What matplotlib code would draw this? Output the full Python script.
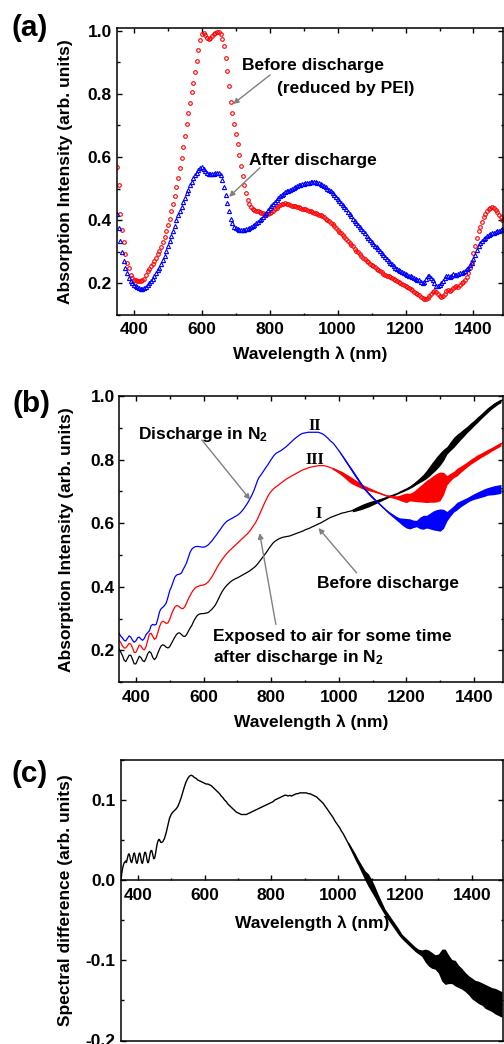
import numpy as np
import matplotlib
matplotlib.use("Agg")
import matplotlib.pyplot as plt
from matplotlib.ticker import MultipleLocator, FormatStrFormatter, FixedLocator

plt.rcParams['font.family'] = ['Liberation Sans', 'DejaVu Sans']
plt.rcParams['font.weight'] = 'bold'
plt.rcParams['axes.labelweight'] = 'bold'
plt.rcParams['axes.unicode_minus'] = False
plt.rcParams['mathtext.fontset'] = 'custom'
plt.rcParams['mathtext.rm'] = 'Liberation Sans:bold'
plt.rcParams['mathtext.bf'] = 'Liberation Sans:bold'
plt.rcParams['mathtext.default'] = 'bf'
plt.rcParams['xtick.direction'] = 'in'
plt.rcParams['ytick.direction'] = 'in'

# ---------------- data ----------------
# wavelength grid (nm) for panels (a) and (b)
wl = np.arange(350, 1486, 5)

# (a) before discharge (reduced by PEI) - red circles
a_before = [
    0.570, 0.510, 0.420, 0.370, 0.330, 0.292, 0.265, 0.248, 0.228, 0.218,
    0.212, 0.210, 0.208, 0.207, 0.208, 0.210, 0.215, 0.228, 0.238, 0.245,
    0.255, 0.262, 0.270, 0.280, 0.292, 0.303, 0.315, 0.330, 0.347, 0.365,
    0.385, 0.405, 0.428, 0.452, 0.478, 0.505, 0.535, 0.565, 0.598, 0.632,
    0.667, 0.705, 0.740, 0.772, 0.805, 0.835, 0.870, 0.905, 0.940, 0.970,
    0.990, 0.992, 0.985, 0.978, 0.975, 0.977, 0.982, 0.988, 0.993, 0.995,
    0.995, 0.990, 0.975, 0.950, 0.915, 0.873, 0.825, 0.775, 0.740, 0.705,
    0.672, 0.640, 0.605, 0.572, 0.540, 0.512, 0.485, 0.465, 0.450, 0.442,
    0.437, 0.433, 0.430, 0.428, 0.425, 0.423, 0.422, 0.421, 0.420, 0.420,
    0.423, 0.426, 0.430, 0.435, 0.440, 0.444, 0.447, 0.450, 0.452, 0.453,
    0.452, 0.450, 0.448, 0.446, 0.445, 0.444, 0.442, 0.441, 0.439, 0.437,
    0.436, 0.434, 0.432, 0.430, 0.428, 0.426, 0.424, 0.422, 0.420, 0.418,
    0.415, 0.412, 0.409, 0.405, 0.401, 0.397, 0.392, 0.387, 0.381, 0.375,
    0.369, 0.364, 0.359, 0.353, 0.347, 0.341, 0.335, 0.329, 0.323, 0.317,
    0.310, 0.304, 0.298, 0.292, 0.287, 0.282, 0.277, 0.272, 0.267, 0.263,
    0.259, 0.255, 0.251, 0.247, 0.243, 0.239, 0.235, 0.231, 0.228, 0.225,
    0.222, 0.219, 0.216, 0.213, 0.210, 0.207, 0.204, 0.201, 0.198, 0.195,
    0.192, 0.189, 0.186, 0.182, 0.178, 0.174, 0.170, 0.166, 0.162, 0.158,
    0.154, 0.150, 0.150, 0.154, 0.160, 0.167, 0.172, 0.175, 0.172, 0.165,
    0.160, 0.158, 0.160, 0.168, 0.175, 0.178, 0.176, 0.178, 0.185, 0.190,
    0.192, 0.190, 0.195, 0.200, 0.205, 0.210, 0.220, 0.232, 0.248, 0.268,
    0.295, 0.318, 0.345, 0.365, 0.380, 0.395, 0.410, 0.420, 0.428, 0.435,
    0.440, 0.441, 0.438, 0.432, 0.425, 0.418, 0.410, 0.402,
]

# (a) after discharge - blue triangles
a_after = [
    0.420, 0.375, 0.335, 0.300, 0.272, 0.250, 0.232, 0.218, 0.207, 0.200,
    0.195, 0.191, 0.188, 0.185, 0.183, 0.183, 0.185, 0.189, 0.194, 0.200,
    0.207, 0.214, 0.222, 0.232, 0.241, 0.250, 0.261, 0.274, 0.288, 0.303,
    0.318, 0.334, 0.350, 0.366, 0.382, 0.400, 0.416, 0.430, 0.443, 0.457,
    0.471, 0.485, 0.497, 0.510, 0.522, 0.533, 0.543, 0.551, 0.558, 0.564,
    0.567, 0.563, 0.555, 0.549, 0.546, 0.545, 0.545, 0.546, 0.548, 0.550,
    0.549, 0.542, 0.528, 0.505, 0.480, 0.455, 0.428, 0.405, 0.390, 0.380,
    0.375, 0.372, 0.370, 0.369, 0.369, 0.370, 0.371, 0.373, 0.376, 0.379,
    0.382, 0.386, 0.390, 0.395, 0.400, 0.405, 0.411, 0.417, 0.424, 0.431,
    0.438, 0.445, 0.452, 0.459, 0.465, 0.470, 0.476, 0.480, 0.484, 0.488,
    0.491, 0.494, 0.497, 0.500, 0.503, 0.506, 0.508, 0.510, 0.512, 0.514,
    0.516, 0.517, 0.518, 0.519, 0.520, 0.520, 0.520, 0.520, 0.519, 0.517,
    0.515, 0.512, 0.508, 0.504, 0.500, 0.496, 0.491, 0.486, 0.480, 0.474,
    0.468, 0.462, 0.455, 0.448, 0.441, 0.434, 0.427, 0.420, 0.412, 0.405,
    0.398, 0.391, 0.385, 0.379, 0.372, 0.365, 0.358, 0.351, 0.344, 0.338,
    0.332, 0.326, 0.320, 0.314, 0.308, 0.302, 0.296, 0.289, 0.283, 0.277,
    0.271, 0.265, 0.260, 0.255, 0.250, 0.246, 0.242, 0.238, 0.235, 0.232,
    0.229, 0.227, 0.225, 0.222, 0.220, 0.218, 0.215, 0.212, 0.210, 0.205,
    0.200, 0.205, 0.215, 0.222, 0.223, 0.218, 0.210, 0.200, 0.193, 0.192,
    0.195, 0.200, 0.208, 0.218, 0.225, 0.222, 0.220, 0.225, 0.230, 0.228,
    0.226, 0.230, 0.234, 0.233, 0.235, 0.240, 0.245, 0.250, 0.258, 0.266,
    0.276, 0.290, 0.305, 0.318, 0.328, 0.335, 0.340, 0.345, 0.349, 0.352,
    0.355, 0.358, 0.360, 0.362, 0.365, 0.367, 0.369, 0.371,
]

# (b) II: discharge in N2 (blue)
b_n2 = [
    0.255, 0.245, 0.240, 0.232, 0.230, 0.238, 0.246, 0.242, 0.232, 0.226,
    0.230, 0.240, 0.242, 0.236, 0.232, 0.238, 0.250, 0.256, 0.262, 0.278,
    0.282, 0.280, 0.282, 0.300, 0.322, 0.332, 0.336, 0.342, 0.350, 0.368,
    0.388, 0.400, 0.415, 0.430, 0.437, 0.439, 0.440, 0.444, 0.455, 0.465,
    0.476, 0.492, 0.508, 0.518, 0.523, 0.526, 0.527, 0.527, 0.526, 0.525,
    0.525, 0.526, 0.529, 0.533, 0.539, 0.545, 0.552, 0.559, 0.566, 0.574,
    0.581, 0.589, 0.596, 0.602, 0.607, 0.610, 0.613, 0.616, 0.619, 0.622,
    0.625, 0.629, 0.634, 0.640, 0.647, 0.655, 0.663, 0.672, 0.682, 0.693,
    0.705, 0.720, 0.735, 0.745, 0.752, 0.760, 0.768, 0.776, 0.783, 0.792,
    0.800, 0.808, 0.815, 0.820, 0.823, 0.826, 0.829, 0.833, 0.837, 0.841,
    0.846, 0.851, 0.856, 0.861, 0.866, 0.870, 0.874, 0.878, 0.881, 0.883,
    0.884, 0.885, 0.886, 0.886, 0.886, 0.886, 0.886, 0.886, 0.886, 0.884,
    0.882, 0.879, 0.875, 0.870, 0.865, 0.859, 0.855, 0.850, 0.843, 0.836,
    0.829, 0.821, 0.813, 0.805, 0.797, 0.789, 0.781, 0.773, 0.765, 0.757,
    0.749, 0.741, 0.733, 0.725, 0.717, 0.710, 0.704, 0.698, 0.692, 0.686,
    0.681, 0.676, 0.671, 0.666, 0.661, 0.656, 0.651, 0.646, 0.641, 0.636,
    0.632, 0.628, 0.624, 0.620, 0.616, 0.612, 0.609, 0.606, 0.604, 0.602,
    0.600, 0.599, 0.598, 0.598, 0.598, 0.598, 0.599, 0.600, 0.601, 0.602,
    0.603, 0.604, 0.605, 0.606, 0.607, 0.608, 0.609, 0.610, 0.610, 0.610,
    0.610, 0.612, 0.614, 0.617, 0.622, 0.628, 0.634, 0.640, 0.645, 0.650,
    0.654, 0.658, 0.661, 0.664, 0.667, 0.670, 0.673, 0.676, 0.679, 0.682,
    0.684, 0.686, 0.688, 0.690, 0.692, 0.694, 0.696, 0.698, 0.700, 0.701,
    0.702, 0.703, 0.704, 0.705, 0.706, 0.707, 0.708, 0.709,
]

# (b) III: exposed to air after discharge in N2 (red)
b_air = [
    0.232, 0.225, 0.215, 0.208, 0.208, 0.215, 0.222, 0.220, 0.208, 0.194,
    0.194, 0.205, 0.217, 0.214, 0.205, 0.202, 0.212, 0.232, 0.252, 0.254,
    0.244, 0.235, 0.240, 0.258, 0.275, 0.288, 0.292, 0.289, 0.285, 0.287,
    0.298, 0.313, 0.326, 0.336, 0.341, 0.340, 0.336, 0.332, 0.332, 0.338,
    0.350, 0.362, 0.372, 0.382, 0.390, 0.396, 0.400, 0.402, 0.404, 0.405,
    0.406, 0.408, 0.412, 0.417, 0.424, 0.432, 0.441, 0.451, 0.461, 0.470,
    0.478, 0.486, 0.493, 0.500, 0.506, 0.512, 0.517, 0.522, 0.527, 0.532,
    0.537, 0.542, 0.547, 0.552, 0.557, 0.562, 0.567, 0.573, 0.580, 0.588,
    0.596, 0.604, 0.614, 0.626, 0.638, 0.650, 0.662, 0.673, 0.684, 0.693,
    0.700, 0.706, 0.711, 0.715, 0.719, 0.723, 0.727, 0.731, 0.735, 0.739,
    0.742, 0.745, 0.748, 0.751, 0.754, 0.757, 0.760, 0.763, 0.766, 0.768,
    0.770, 0.772, 0.774, 0.776, 0.777, 0.778, 0.779, 0.780, 0.781, 0.781,
    0.781, 0.781, 0.780, 0.779, 0.777, 0.775, 0.773, 0.771, 0.768, 0.765,
    0.762, 0.759, 0.756, 0.752, 0.748, 0.744, 0.740, 0.736, 0.733, 0.730,
    0.727, 0.724, 0.721, 0.718, 0.715, 0.713, 0.711, 0.709, 0.707, 0.705,
    0.703, 0.701, 0.699, 0.697, 0.695, 0.693, 0.691, 0.689, 0.687, 0.686,
    0.685, 0.684, 0.683, 0.682, 0.681, 0.680, 0.680, 0.680, 0.680, 0.680,
    0.680, 0.681, 0.682, 0.683, 0.684, 0.686, 0.688, 0.690, 0.692, 0.694,
    0.696, 0.698, 0.700, 0.702, 0.704, 0.706, 0.708, 0.710, 0.712, 0.714,
    0.716, 0.720, 0.725, 0.730, 0.735, 0.740, 0.745, 0.749, 0.753, 0.757,
    0.761, 0.765, 0.769, 0.773, 0.777, 0.781, 0.785, 0.789, 0.793, 0.797,
    0.800, 0.803, 0.807, 0.810, 0.813, 0.816, 0.819, 0.822, 0.825, 0.828,
    0.831, 0.834, 0.837, 0.840, 0.843, 0.846, 0.849, 0.852,
]

# (b) I: before discharge (black)
b_before = [
    0.205, 0.195, 0.185, 0.170, 0.165, 0.175, 0.185, 0.185, 0.172, 0.158,
    0.158, 0.170, 0.182, 0.178, 0.168, 0.165, 0.175, 0.190, 0.197, 0.192,
    0.178, 0.171, 0.178, 0.192, 0.205, 0.215, 0.218, 0.215, 0.210, 0.208,
    0.212, 0.222, 0.232, 0.242, 0.250, 0.255, 0.255, 0.250, 0.245, 0.244,
    0.250, 0.260, 0.270, 0.278, 0.290, 0.300, 0.308, 0.313, 0.315, 0.316,
    0.316, 0.317, 0.318, 0.320, 0.325, 0.330, 0.336, 0.343, 0.353, 0.364,
    0.375, 0.385, 0.393, 0.400, 0.406, 0.411, 0.416, 0.420, 0.423, 0.426,
    0.428, 0.431, 0.434, 0.437, 0.440, 0.443, 0.446, 0.449, 0.453, 0.457,
    0.461, 0.466, 0.472, 0.479, 0.486, 0.493, 0.500, 0.507, 0.515, 0.523,
    0.530, 0.537, 0.542, 0.546, 0.549, 0.552, 0.554, 0.556, 0.557, 0.558,
    0.559, 0.560, 0.562, 0.564, 0.566, 0.568, 0.570, 0.572, 0.574, 0.576,
    0.579, 0.581, 0.583, 0.585, 0.588, 0.590, 0.593, 0.595, 0.598, 0.600,
    0.603, 0.606, 0.609, 0.612, 0.615, 0.618, 0.620, 0.622, 0.624, 0.626,
    0.628, 0.630, 0.632, 0.633, 0.634, 0.636, 0.637, 0.638, 0.640, 0.642,
    0.644, 0.646, 0.648, 0.650, 0.652, 0.654, 0.656, 0.658, 0.660, 0.662,
    0.664, 0.666, 0.668, 0.670, 0.672, 0.674, 0.676, 0.678, 0.680, 0.682,
    0.684, 0.686, 0.688, 0.690, 0.692, 0.694, 0.697, 0.700, 0.702, 0.705,
    0.707, 0.710, 0.713, 0.716, 0.720, 0.724, 0.728, 0.732, 0.736, 0.740,
    0.744, 0.749, 0.754, 0.760, 0.766, 0.772, 0.778, 0.784, 0.790, 0.796,
    0.802, 0.808, 0.815, 0.822, 0.829, 0.836, 0.842, 0.848, 0.854, 0.860,
    0.865, 0.870, 0.875, 0.880, 0.885, 0.890, 0.895, 0.900, 0.905, 0.910,
    0.915, 0.920, 0.925, 0.930, 0.935, 0.940, 0.945, 0.950, 0.955, 0.960,
    0.964, 0.968, 0.972, 0.976, 0.979, 0.982, 0.985, 0.987,
]

# half-width of the dense ripple bands, 10 nm grid
b_n2_band_wl = np.arange(1000, 1490, 10)
b_n2_band = [
    0.002, 0.003, 0.004, 0.004, 0.005, 0.005, 0.005, 0.005, 0.004, 0.004,
    0.004, 0.003, 0.003, 0.003, 0.003, 0.004, 0.005, 0.006, 0.008, 0.012,
    0.015, 0.016, 0.012, 0.010, 0.018, 0.022, 0.020, 0.025, 0.030, 0.033,
    0.035, 0.030, 0.015, 0.012, 0.010, 0.012, 0.010, 0.009, 0.008, 0.008,
    0.009, 0.010, 0.011, 0.012, 0.012, 0.013, 0.014, 0.014, 0.014,
]
b_air_band_wl = np.arange(980, 1490, 10)
b_air_band = [
    0.003, 0.004, 0.005, 0.007, 0.008, 0.010, 0.010, 0.009, 0.008, 0.007,
    0.006, 0.005, 0.004, 0.003, 0.002, 0.002, 0.002, 0.003, 0.004, 0.005,
    0.008, 0.012, 0.015, 0.012, 0.015, 0.020, 0.025, 0.030, 0.035, 0.038,
    0.042, 0.045, 0.045, 0.035, 0.015, 0.012, 0.010, 0.012, 0.010, 0.009,
    0.008, 0.008, 0.008, 0.008, 0.007, 0.007, 0.007, 0.006, 0.006, 0.006,
    0.006,
]
b_before_band_wl = np.arange(1040, 1490, 10)
b_before_band = [
    0.004, 0.006, 0.007, 0.008, 0.008, 0.008, 0.007, 0.006, 0.005, 0.004,
    0.003, 0.002, 0.002, 0.002, 0.002, 0.003, 0.003, 0.004, 0.005, 0.006,
    0.008, 0.010, 0.013, 0.016, 0.018, 0.020, 0.020, 0.018, 0.012, 0.014,
    0.016, 0.015, 0.013, 0.012, 0.010, 0.010, 0.009, 0.009, 0.008, 0.008,
    0.008, 0.007, 0.007, 0.006, 0.006,
]

# (c) spectral difference
wl_c = np.concatenate([np.arange(350, 472, 2), np.arange(475, 1491, 5)])
c_diff = [
    0.000, 0.008, 0.013, 0.017, 0.020, 0.022, 0.023, 0.024, 0.022, 0.025,
    0.029, 0.032, 0.033, 0.031, 0.026, 0.023, 0.022, 0.025, 0.029, 0.033,
    0.034, 0.031, 0.026, 0.022, 0.021, 0.024, 0.029, 0.033, 0.034, 0.031,
    0.026, 0.022, 0.021, 0.024, 0.029, 0.033, 0.035, 0.034, 0.030, 0.025,
    0.022, 0.022, 0.026, 0.031, 0.035, 0.037, 0.037, 0.034, 0.030, 0.027,
    0.027, 0.030, 0.035, 0.040, 0.045, 0.048, 0.050, 0.051, 0.050, 0.048,
    0.047,
    0.048, 0.052, 0.059, 0.068, 0.077, 0.082, 0.085, 0.087, 0.089, 0.092,
    0.097, 0.103, 0.110, 0.117, 0.123, 0.127, 0.130, 0.131, 0.130, 0.128,
    0.127, 0.125, 0.124, 0.123, 0.122, 0.121, 0.120, 0.120, 0.119, 0.118,
    0.116, 0.114, 0.112, 0.110, 0.108, 0.105, 0.103, 0.100, 0.098, 0.095,
    0.093, 0.091, 0.089, 0.087, 0.085, 0.084, 0.083, 0.082, 0.082, 0.082,
    0.082, 0.083, 0.084, 0.085, 0.086, 0.087, 0.088, 0.089, 0.090, 0.091,
    0.092, 0.093, 0.094, 0.095, 0.096, 0.097, 0.098, 0.100, 0.101, 0.102,
    0.103, 0.104, 0.105, 0.106, 0.106, 0.105, 0.106, 0.105, 0.106, 0.107,
    0.108, 0.108, 0.109, 0.109, 0.109, 0.109, 0.109, 0.108, 0.108, 0.107,
    0.106, 0.105, 0.104, 0.102, 0.100, 0.098, 0.096, 0.093, 0.090, 0.087,
    0.084, 0.081, 0.078, 0.074, 0.071, 0.068, 0.065, 0.061, 0.058, 0.054,
    0.050, 0.046, 0.042, 0.038, 0.034, 0.030, 0.026, 0.022, 0.018, 0.014,
    0.010, 0.006, 0.003, 0.000, -0.003, -0.007, -0.011, -0.015, -0.019, -0.024,
    -0.028, -0.032, -0.036, -0.040, -0.043, -0.046, -0.049, -0.052, -0.055, -0.058,
    -0.061, -0.064, -0.067, -0.070, -0.072, -0.074, -0.076, -0.078, -0.080, -0.082,
    -0.084, -0.086, -0.088, -0.089, -0.090, -0.091, -0.092, -0.094, -0.095, -0.097,
    -0.099, -0.100, -0.101, -0.102, -0.103, -0.104, -0.105, -0.106, -0.107, -0.108,
    -0.110, -0.111, -0.112, -0.114, -0.115, -0.116, -0.118, -0.120, -0.122, -0.123,
    -0.125, -0.127, -0.129, -0.131, -0.133, -0.135, -0.136, -0.138, -0.139, -0.140,
    -0.141, -0.142, -0.144, -0.145, -0.146, -0.147, -0.148, -0.149, -0.150, -0.151,
    -0.152, -0.153, -0.154, -0.155,
]
c_band_wl = np.arange(1030, 1500, 10)
c_band = [
    0.002, 0.003, 0.004, 0.004, 0.005, 0.006, 0.008, 0.008, 0.007, 0.006,
    0.005, 0.004, 0.004, 0.004, 0.004, 0.004, 0.003, 0.003, 0.003, 0.003,
    0.003, 0.003, 0.004, 0.008, 0.010, 0.010, 0.009, 0.012, 0.020, 0.022,
    0.018, 0.015, 0.016, 0.014, 0.013, 0.012, 0.012, 0.013, 0.013, 0.014,
    0.014, 0.015, 0.015, 0.015, 0.016, 0.016, 0.016,
]
c_major_ticks = [400, 600, 800, 1000, 1200, 1400]
c_minor_ticks = [500, 700, 900, 1100, 1300]

# ---------------- figure ----------------
FS = 12.5
GRAY = '#808080'
RED = '#ff0000'
BLUE = '#0000ff'

fig = plt.figure(figsize=(5.04, 10.44), dpi=100)
W, H = 504.0, 1044.0
ax1 = fig.add_axes([117 / W, (H - 315) / H, 386 / W, 287 / H])
ax2 = fig.add_axes([119 / W, (H - 682.3) / H, 384 / W, 286.3 / H])
ax3 = fig.add_axes([121 / W, (H - 1040.5) / H, 382.3 / W, 280.5 / H])


def style(ax, ymaj, ymin, top=True, xpad=4.8, ypad=3.5):
    ax.xaxis.set_major_locator(MultipleLocator(200))
    ax.xaxis.set_minor_locator(MultipleLocator(100))
    ax.yaxis.set_major_locator(MultipleLocator(ymaj))
    ax.yaxis.set_minor_locator(MultipleLocator(ymin))
    ax.yaxis.set_major_formatter(FormatStrFormatter('%.1f'))
    ax.tick_params(which='both', direction='in', top=top, right=True,
                   width=1.0, labelsize=FS)
    ax.tick_params(which='major', length=3.3)
    ax.tick_params(which='minor', length=1.8)
    ax.tick_params(axis='x', pad=xpad)
    ax.tick_params(axis='y', pad=ypad)
    for s in ax.spines.values():
        s.set_linewidth(1.1)


def band(ax, bx, bw, x, y, color):
    centre = np.interp(bx, x, y)
    bw = np.asarray(bw)
    ax.fill_between(bx, centre - bw, centre + bw, color=color, lw=0)


# ---- (a) ----
ax1.plot(wl, a_before, ls='none', marker='o', ms=2.6, mew=0.8,
         mfc='none', mec=RED)
ax1.plot(wl, a_after, ls='none', marker='^', ms=3.0, mew=0.8,
         mfc='none', mec=BLUE)
ax1.set_xlim(350, 1487)
ax1.set_ylim(0.1, 1.0085)
style(ax1, 0.2, 0.1, xpad=4.8, ypad=3.6)
ax1.set_xlabel('Wavelength λ (nm)', fontsize=FS, labelpad=6.8)
ax1.set_ylabel('Absorption Intensity (arb. units)', fontsize=FS)
ax1.yaxis.set_label_coords(-0.115, 0.5)

ax1.text(718, 0.874, 'Before discharge', fontsize=FS, ha='left', va='baseline')
ax1.text(821, 0.802, '(reduced by PEI)', fontsize=FS, ha='left', va='baseline')
ax1.text(740, 0.576, 'After discharge', fontsize=FS, ha='left', va='baseline')
arrow = dict(arrowstyle='-|>', color=GRAY, lw=1.0, mutation_scale=8,
             shrinkA=0, shrinkB=0)
ax1.annotate('', xy=(692, 0.768), xytext=(801, 0.860), arrowprops=arrow)
ax1.annotate('', xy=(680, 0.474), xytext=(771, 0.566), arrowprops=arrow)

# ---- (b) ----
ax2.plot(wl, b_before, color='black', lw=0.9)
band(ax2, b_before_band_wl, b_before_band, wl, b_before, 'black')
ax2.plot(wl, b_air, color=RED, lw=0.9)
band(ax2, b_air_band_wl, b_air_band, wl, b_air, RED)
ax2.plot(wl, b_n2, color=BLUE, lw=0.9)
band(ax2, b_n2_band_wl, b_n2_band, wl, b_n2, BLUE)
ax2.set_xlim(350, 1486)
ax2.set_ylim(0.1, 1.0)
style(ax2, 0.2, 0.1, xpad=5.5, ypad=2.9)
ax2.set_xlabel('Wavelength λ (nm)', fontsize=FS, labelpad=6.5)
ax2.set_ylabel('Absorption Intensity (arb. units)', fontsize=FS)
ax2.yaxis.set_label_coords(-0.116, 0.5)

ax2.text(406, 0.864, r'Discharge in N$_2$', fontsize=FS, ha='left', va='baseline')
ax2.text(936, 0.395, 'Before discharge', fontsize=FS, ha='left', va='baseline')
ax2.text(628, 0.231, 'Exposed to air for some time', fontsize=FS,
         ha='left', va='baseline')
ax2.text(628, 0.163, r'after discharge in N$_2$', fontsize=FS,
         ha='left', va='baseline')
roman = dict(fontsize=11.5, family=['Liberation Serif', 'DejaVu Serif'],
             fontweight='bold', ha='center', va='baseline')
ax2.text(930, 0.893, 'II', **roman)
ax2.text(930, 0.786, 'III', **roman)
ax2.text(939, 0.618, 'I', **roman)
ax2.annotate('', xy=(738, 0.674), xytext=(595, 0.862), arrowprops=arrow)
ax2.annotate('', xy=(940, 0.585), xytext=(1053, 0.444), arrowprops=arrow)
ax2.annotate('', xy=(766, 0.569), xytext=(814, 0.282), arrowprops=arrow)

# ---- (c) ----
ax3.plot(wl_c, c_diff, color='black', lw=1.0)
band(ax3, c_band_wl, c_band, wl_c, c_diff, 'black')
ax3.set_xlim(350, 1494)
ax3.set_ylim(-0.2, 0.15)
style(ax3, 0.1, 0.05, top=False, xpad=5.3, ypad=4.2)
ax3.tick_params(axis='x', which='both', bottom=False, top=False,
                labelbottom=False)
ax3.set_ylabel('Spectral difference (arb. units)', fontsize=FS)
ax3.yaxis.set_label_coords(-0.126, 0.5)

y0, y1 = ax3.get_ylim()
sec = ax3.secondary_xaxis((0 - y0) / (y1 - y0))
sec.set_alignment('bottom')
sec.xaxis.set_major_locator(FixedLocator(c_major_ticks))
sec.xaxis.set_minor_locator(FixedLocator(c_minor_ticks))
sec.tick_params(which='both', direction='in', width=1.0, labelsize=FS, pad=5.3)
sec.tick_params(which='major', length=3.3)
sec.tick_params(which='minor', length=1.8)
sec.spines['bottom'].set_linewidth(1.1)
sec.set_xlabel('Wavelength λ (nm)', fontsize=FS, labelpad=9.5)

# panel letters
fig.text(30 / W, 1 - 28 / H, '(a)', fontsize=21.5, fontweight='bold',
         ha='center', va='center')
fig.text(31.5 / W, 1 - 404 / H, '(b)', fontsize=21.5, fontweight='bold',
         ha='center', va='center')
fig.text(30 / W, 1 - 774 / H, '(c)', fontsize=21.5, fontweight='bold',
         ha='center', va='center')

fig.savefig('out.png', dpi=100, facecolor='white')
